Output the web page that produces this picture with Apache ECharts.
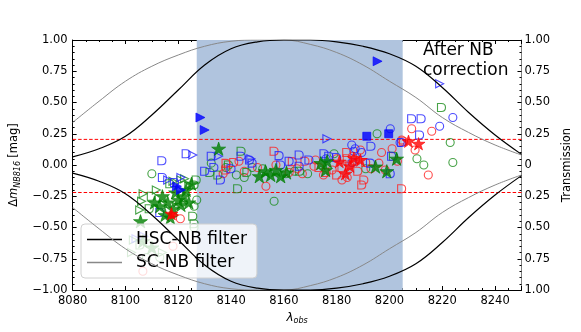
<!DOCTYPE html>
<html>
<head>
<meta charset="utf-8">
<script src="https://cdn.jsdelivr.net/npm/echarts@6/dist/echarts.min.js"></script>
<style>
	html, body { margin: 0; padding: 0; background: #fff; }
	#chart { width: 581px; height: 332px; }
</style>
</head>
<body>
<div id="chart"></div>
<script>
// filter transmission curves (upper half = T, lower half mirrored = -T)
var filterWave = [8080, 8090, 8100, 8110, 8120, 8130, 8140, 8150, 8160, 8170, 8180, 8190, 8200, 8210, 8220, 8230, 8240, 8250];
var hscTrans = [0.065, 0.13, 0.23, 0.40, 0.60, 0.80, 0.93, 0.985, 1.0, 1.0, 0.985, 0.95, 0.89, 0.79, 0.62, 0.42, 0.24, 0.085];
var scTrans = [0.34, 0.51, 0.67, 0.79, 0.88, 0.95, 0.99, 1.0, 1.0, 0.965, 0.90, 0.80, 0.67, 0.54, 0.38, 0.26, 0.16, 0.08];

// dashed limits and shaded band
var limits = [0.205, -0.22];
var band = [8127, 8205];

// [lambda_obs, delta m]
var blueCircle = [[8185.7, 0.16], [8187, 0.13], [8186.5, 0.11], [8189.5, 0.10], [8185.8, 0.02], [8200.3, 0.29], [8204, 0.18], [8219, 0.31], [8224, 0.38], [8176, 0.05]];
var blueTriOpen = [[8125.5, 0.08], [8176.3, 0.21], [8219, 0.65], [8135.2, 0.07], [8147.5, 0.05], [8116, -0.12], [8104, -0.59], [8107, -0.57], [8121, -0.10]];
var blueTriFilled = [[8128.4, 0.38], [8130, 0.28], [8195.5, 0.83], [8121, -0.20], [8119.5, -0.17]];
var blueSquare = [[8191.4, 0.23], [8199.7, 0.25]];
var blueD = [[8113.8, 0.034], [8123, 0.09], [8114, -0.10], [8118.6, -0.14], [8113, -0.38], [8132.5, 0.07], [8136, -0.12], [8140, -0.03],
	[8143.8, 0.07], [8147, 0.04], [8148, 0.015], [8158.2, 0.075], [8158.8, 0.0], [8165.8, 0.08], [8165.8, -0.01], [8169.5, 0.04],
	[8175.2, 0.09], [8177, 0.07], [8193, 0.15], [8192.8, 0.015], [8200.8, 0.07], [8200.3, -0.07], [8204.6, 0.18], [8208.4, 0.37],
	[8212, 0.37], [8211.4, 0.24], [8130, -0.05], [8133.5, -0.02], [8162, 0.03], [8180, 0.06]];
var redCircle = [[8153.2, -0.17], [8204.6, 0.20], [8208.4, 0.29], [8216, 0.27], [8209.7, 0.12], [8214.7, -0.08], [8120.8, -0.43],
	[8118, -0.65], [8106.6, -0.85], [8145, -0.05], [8150, -0.02], [8162, -0.06], [8167, -0.07], [8171.4, -0.01], [8172, 0.04],
	[8178.3, -0.04], [8180, 0.05], [8184, -0.10], [8186, 0.07], [8193, -0.03], [8197, 0.10], [8196, 0.015], [8198.4, -0.04],
	[8203, 0.03], [8157, 0.0], [8143, 0.03], [8137, -0.07], [8175, -0.08], [8182, -0.12], [8189, 0.12], [8201, 0.13], [8165, -0.03]];
var redD = [[8156.3, 0.11], [8163.2, 0.027], [8173.3, -0.02], [8190.3, -0.12], [8189.5, -0.16], [8204.6, -0.19], [8183.8, 0.10],
	[8187.1, 0.04], [8138.1, 0.013], [8138.1, -0.04], [8182, -0.02], [8185, 0.0], [8188, -0.05], [8191, 0.02], [8180, -0.08],
	[8176, -0.06], [8205.3, 0.19], [8141, 0.02], [8168, 0.03], [8184, 0.05]];
var redStar = [[8183.3, -0.07], [8189, 0.04], [8186.5, 0.055], [8181, 0.027], [8207.2, 0.19], [8211, 0.17], [8117.4, -0.39], [8185, -0.01]];
var redTriFilled = [[8118.6, -0.40]];
var greenCircle = [[8132.5, 0.015], [8156.3, -0.29], [8179, 0.09], [8195.3, 0.25], [8210.4, 0.05], [8213, 0.0], [8224, 0.02],
	[8223, 0.18], [8126, -0.33], [8126, -0.50], [8127, -0.28], [8138, -0.02], [8142, -0.08], [8148, -0.02], [8160.7, -0.07],
	[8169, -0.07], [8191, -0.03], [8110, -0.07], [8108, -0.74], [8113, -0.74], [8145, -0.1], [8152, -0.03], [8164, -0.05]];
var greenD = [[8143.8, 0.11], [8135, -0.08], [8142.5, -0.19], [8116.8, -0.15], [8126.8, -0.12], [8109, -0.35], [8125.5, -0.41],
	[8126, -0.47], [8219.7, 0.46], [8201.5, 0.07], [8132, -0.06], [8139, 0.0], [8109.8, -0.25], [8126, -0.16], [8105.5, -0.64],
	[8146, -0.06], [8166, -0.05]];
var greenTriOpen = [[8106.7, -0.23], [8106.1, -0.29], [8105.4, -0.36], [8111.7, -0.20], [8118, -0.13], [8121, -0.12], [8122.4, -0.11],
	[8124, -0.16], [8103, -0.60], [8102.3, -0.70], [8114, -0.70]];
var greenStar = [[8135.3, 0.13], [8150.7, -0.09], [8153, -0.05], [8155, -0.08], [8157, -0.04], [8158.8, -0.09], [8161, -0.06],
	[8174, 0.015], [8176.4, 0.03], [8175.8, -0.04], [8194.7, -0.013], [8199, -0.05], [8202.7, 0.05], [8105.7, -0.45], [8114, -0.25],
	[8116, -0.30], [8118, -0.35], [8119, -0.22], [8120, -0.28], [8121, -0.32], [8122, -0.25], [8123, -0.20], [8124, -0.30],
	[8117, -0.42], [8115, -0.40], [8113, -0.33], [8125, -0.15], [8111, -0.30], [8106.6, -0.61], [8110, -0.66]];

var SYM_TRI = 'path://M0,0 L10,5 L0,10 Z';
var SYM_D = 'path://M0,0 L5,0 Q10,0 10,5 Q10,10 5,10 L0,10 Z';
var SYM_STAR = 'path://M5,0 L6.2,3.6 L10,3.6 L6.9,5.9 L8.1,9.5 L5,7.3 L1.9,9.5 L3.1,5.9 L0,3.6 L3.8,3.6 Z';

function pts(name, data, symbol, size, color, filled) {
	return {
		name: name,
		type: 'scatter',
		data: data,
		symbol: symbol,
		symbolSize: size,
		symbolKeepAspect: true,
		z: 3,
		itemStyle: filled ? { color: color, borderColor: color, borderWidth: 0.8 } :
			{ color: 'rgba(0,0,0,0)', borderColor: color, borderWidth: 1.1, opacity: 0.8 }
	};
}

function curve(name, trans, sign, color, width) {
	return {
		name: name,
		type: 'line',
		color: color,
		smooth: 0.4,
		showSymbol: false,
		silent: true,
		z: 4,
		lineStyle: { color: color, width: width },
		data: filterWave.map(function(w, i) { return [w, sign * trans[i]]; })
	};
}

function fmtLeft(v) {
	return (v < 0 ? '\u2212' : '') + Math.abs(v).toFixed(2);
}

function fmtRight(v) {
	return v === 0 ? '0' : Math.abs(v).toFixed(2);
}

var chart = echarts.init(document.getElementById('chart'));
var FONT = 'DejaVu Sans';
var axisCommon = {
	type: 'value',
	axisLine: { onZero: false, lineStyle: { color: '#000', width: 1 } },
	axisTick: { inside: true, length: 4, lineStyle: { color: '#000' } },
	minorTick: { show: true, length: 2, lineStyle: { color: '#000' } },
	splitLine: { show: false },
	axisLabel: { color: '#000', fontSize: 11.5, fontFamily: FONT }
};

chart.setOption({
	animation: false,
	grid: { left: 72.5, right: 58, top: 40, bottom: 42 },
	xAxis: [
		echarts.util.merge({
			min: 8080, max: 8250, interval: 20, position: 'bottom',
			minorTick: { splitNumber: 4 },
			axisLabel: { margin: 5, formatter: function(v) { return String(v); } },
			name: '{l|\u03bb}{s|obs}', nameLocation: 'middle', nameGap: 16,
			nameTextStyle: {
				rich: {
					l: { fontSize: 12, fontStyle: 'italic', fontFamily: FONT, color: '#000', lineHeight: 14 },
					s: { fontSize: 8, fontStyle: 'italic', fontFamily: FONT, color: '#000', lineHeight: 8, verticalAlign: 'bottom' }
				}
			}
		}, axisCommon, false),
		echarts.util.merge({
			min: 8080, max: 8250, interval: 20, position: 'top',
			minorTick: { splitNumber: 4 },
			axisLabel: { show: false }
		}, axisCommon, false)
	],
	yAxis: [
		echarts.util.merge({
			min: -1, max: 1, interval: 0.25, position: 'left',
			minorTick: { splitNumber: 5 },
			axisLabel: { formatter: fmtLeft, margin: 5 },
			name: '{d|\u0394}{m|m}{s|NB816} {d|[mag]}', nameLocation: 'middle', nameGap: 40, nameRotate: 90,
			nameTextStyle: {
				rich: {
					d: { fontSize: 11.5, fontFamily: FONT, color: '#000', lineHeight: 15 },
					m: { fontSize: 11.5, fontStyle: 'italic', fontFamily: FONT, color: '#000', lineHeight: 15 },
					s: { fontSize: 8, fontStyle: 'italic', fontFamily: FONT, color: '#000', lineHeight: 8, verticalAlign: 'bottom' }
				}
			}
		}, axisCommon, false),
		echarts.util.merge({
			min: -1, max: 1, interval: 0.25, position: 'right',
			minorTick: { splitNumber: 5 },
			axisLine: { lineStyle: { color: '#808080' } },
			axisLabel: { formatter: fmtRight, margin: 3 },
			name: 'Transmission', nameLocation: 'middle', nameGap: 32, nameRotate: 90,
			nameTextStyle: { fontSize: 11.5, fontFamily: FONT, color: '#000' }
		}, axisCommon, false)
	],
	legend: {
		data: ['HSC-NB filter', 'SC-NB filter'],
		orient: 'vertical',
		left: 81, top: 224,
		icon: 'rect',
		itemWidth: 35, itemHeight: 1.5,
		itemGap: 6,
		padding: [7, 10, 7, 6],
		backgroundColor: 'rgba(255,255,255,0.8)',
		borderColor: '#d0d0d0', borderWidth: 1, borderRadius: 4,
		textStyle: { fontSize: 17, fontFamily: FONT, color: '#000', padding: [0, 0, 0, 9] }
	},
	graphic: [{
		type: 'text',
		left: 423, top: 41, z: 100,
		style: { text: 'After NB\ncorrection', font: '17px "DejaVu Sans"', fill: '#000', lineHeight: 20 }
	}],
	series: [
		{
			name: 'upper limit', type: 'line', silent: true, showSymbol: false, z: 2,
			lineStyle: { color: '#ff0000', type: [3.5, 2], width: 1 },
			data: [[8080, limits[0]], [8250, limits[0]]],
			markArea: { silent: true, itemStyle: { color: '#b0c4de' }, data: [[{ xAxis: band[0] }, { xAxis: band[1] }]] }
		},
		{
			name: 'lower limit', type: 'line', silent: true, showSymbol: false, z: 2,
			lineStyle: { color: '#ff0000', type: [3.5, 2], width: 1 },
			data: [[8080, limits[1]], [8250, limits[1]]]
		},
		curve('SC-NB filter', scTrans, 1, '#888888', 1),
		curve('SC-NB filter', scTrans, -1, '#888888', 1),
		curve('HSC-NB filter', hscTrans, 1, '#000000', 1.2),
		curve('HSC-NB filter', hscTrans, -1, '#000000', 1.2),
		pts('greenCircle', greenCircle, 'circle', 8, '#1a8c1a', false),
		pts('redCircle', redCircle, 'circle', 8, '#ff2020', false),
		pts('blueCircle', blueCircle, 'circle', 8, '#2020ff', false),
		pts('greenTriOpen', greenTriOpen, SYM_TRI, 8, '#1a8c1a', false),
		pts('blueTriOpen', blueTriOpen, SYM_TRI, 8, '#2020ff', false),
		pts('greenD', greenD, SYM_D, 8, '#1a8c1a', false),
		pts('redD', redD, SYM_D, 8, '#ff2020', false),
		pts('blueD', blueD, SYM_D, 8, '#2020ff', false),
		pts('greenStar', greenStar, SYM_STAR, 14, '#008000', true),
		pts('redStar', redStar, SYM_STAR, 13, '#ff0000', true),
		pts('redTriFilled', redTriFilled, SYM_TRI, 8, '#ff0000', true),
		pts('blueTriFilled', blueTriFilled, SYM_TRI, 9, '#0000ff', true),
		pts('blueSquare', blueSquare, 'rect', 8, '#0000ff', true)
	]
});
</script>
</body>
</html>
